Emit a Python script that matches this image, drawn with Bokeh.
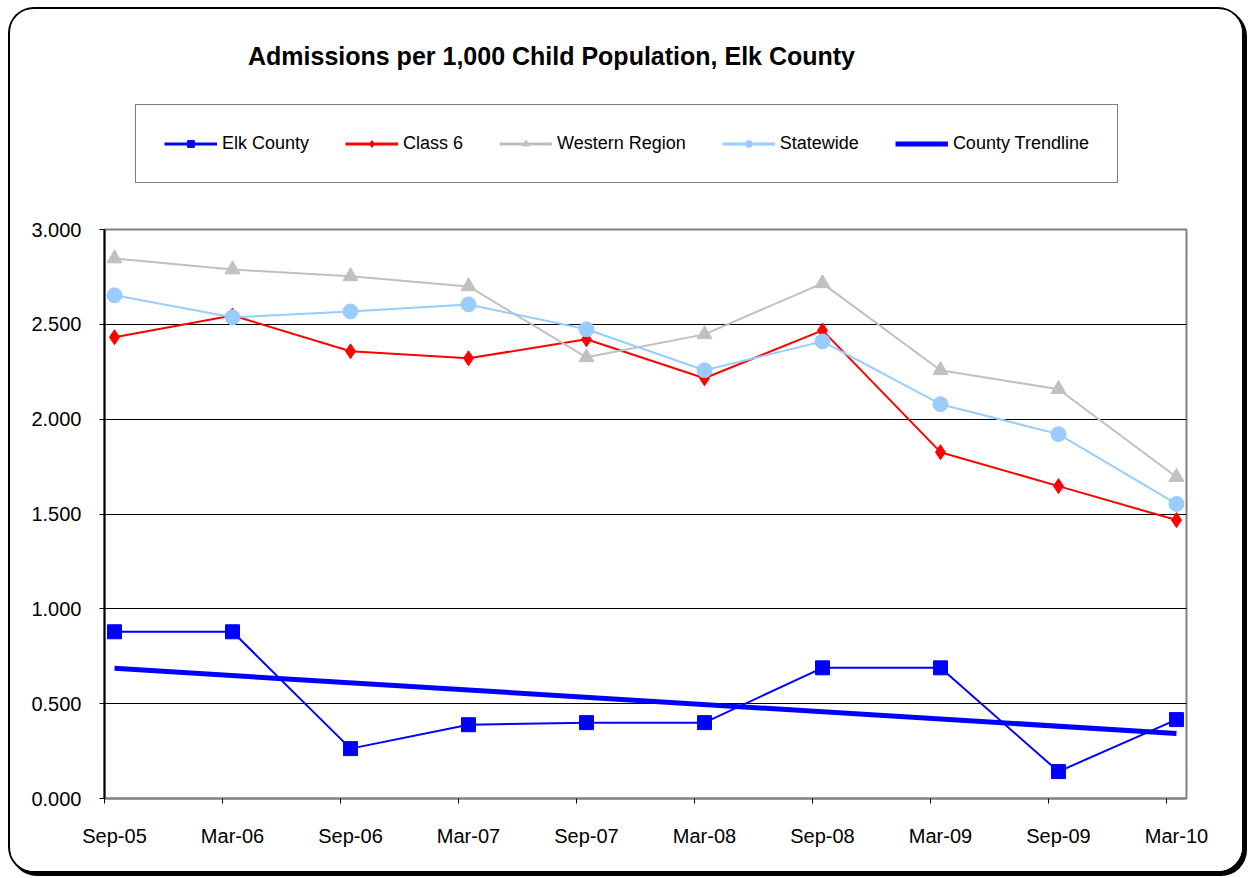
import numpy as np
from bokeh.plotting import figure
from bokeh.layouts import column
from bokeh.models import FixedTicker, Legend, LegendItem, Label, Range1d
from bokeh.embed import file_html
from bokeh.resources import INLINE

# Reporting periods (category axis)
periods = ["Sep-05", "Mar-06", "Sep-06", "Mar-07", "Sep-07",
           "Mar-08", "Sep-08", "Mar-09", "Sep-09", "Mar-10"]

# Admissions per 1,000 child population
elk_county = [0.879, 0.879, 0.263, 0.389, 0.400, 0.400, 0.689, 0.689, 0.142, 0.416]
class_6 = [2.432, 2.547, 2.358, 2.321, 2.421, 2.216, 2.468, 1.826, 1.647, 1.468]
western_region = [2.847, 2.789, 2.753, 2.700, 2.326, 2.447, 2.716, 2.258, 2.158, 1.695]
statewide = [2.653, 2.537, 2.568, 2.605, 2.474, 2.258, 2.410, 2.079, 1.921, 1.553]

y_ticks = [0.0, 0.5, 1.0, 1.5, 2.0, 2.5, 3.0]
y_tick_labels = ["0.000", "0.500", "1.000", "1.500", "2.000", "2.500", "3.000"]

title_text = "Admissions per 1,000 Child Population, Elk County"

xs = list(range(len(periods)))

# Linear (least-squares) trendline for the county series
slope, intercept = np.polyfit(xs, elk_county, 1)
trend_x = [xs[0], xs[-1]]
trend_y = [intercept + slope * xs[0], intercept + slope * xs[-1]]

FONT = "Liberation Sans"
PAD = 0.085

# Series styles: (color, marker, marker size)
ELK = ("#0000FF", "square", 14)
C6 = ("#FF0000", "diamond", 15)
WR = ("#C0C0C0", "triangle", 15)
SW = ("#99CCFF", "circle", 15)

# Inner area of the rounded chart box and the plot-frame margins
BOX_W, BOX_H = 1232, 862
HEAD_H = 200
MAIN_H = BOX_H - HEAD_H
M_LEFT, M_RIGHT = 94, 56

# ---- header: title and legend -------------------------------------------
head = figure(width=BOX_W, height=HEAD_H, output_backend="svg", toolbar_location=None,
              x_range=Range1d(M_LEFT, BOX_W - M_RIGHT), y_range=Range1d(HEAD_H, 0),
              x_axis_type=None, y_axis_type=None,
              min_border_left=M_LEFT, min_border_right=M_RIGHT,
              min_border_top=0, min_border_bottom=0,
              background_fill_color="white", border_fill_color="white",
              outline_line_color=None)
head.xgrid.grid_line_color = None
head.ygrid.grid_line_color = None

# Legend keys: same styling as the chart series, no visible points of their own
blank = [float("nan")] * len(xs)


def legend_key(fig, style, line_width=2, with_marker=True):
    color, marker, size = style
    rs = [fig.line(xs, blank, line_color=color, line_width=line_width)]
    if with_marker:
        rs.append(fig.scatter(xs, blank, marker=marker, size=size,
                              fill_color=color, line_color=color))
    return rs


legend = Legend(
    items=[
        LegendItem(label="Elk County", renderers=legend_key(head, ELK, line_width=3)),
        LegendItem(label="Class 6", renderers=legend_key(head, C6, line_width=3)),
        LegendItem(label="Western Region", renderers=legend_key(head, WR, line_width=3)),
        LegendItem(label="Statewide", renderers=legend_key(head, SW, line_width=3)),
        LegendItem(label="County Trendline",
                   renderers=legend_key(head, ELK, line_width=5, with_marker=False)),
    ],
    orientation="horizontal", location=(31, 26),
    padding=28, spacing=36, margin=0,
    glyph_width=53, glyph_height=17, label_height=17, label_standoff=5,
    label_text_font=FONT, label_text_font_size="18px", label_text_color="black",
    border_line_color="black", border_line_width=1,
    background_fill_color="white", background_fill_alpha=1,
)
head.add_layout(legend, "center")

head.add_layout(Label(x=541, y=46, text=title_text, text_align="center",
                      text_baseline="middle", text_font=FONT,
                      text_font_style="bold", text_font_size="25px",
                      text_color="black"))

# ---- main chart ------------------------------------------------------------
p = figure(width=BOX_W, height=MAIN_H, output_backend="svg", toolbar_location=None,
           x_range=Range1d(-PAD, len(periods) - 1 + PAD), y_range=Range1d(0, 3),
           min_border_left=M_LEFT, min_border_right=M_RIGHT,
           min_border_top=20, min_border_bottom=73,
           background_fill_color="white", border_fill_color="white",
           outline_line_color="#808080", outline_line_width=2)

p.xaxis.ticker = FixedTicker(ticks=xs, minor_ticks=[i - PAD for i in xs])
p.xaxis.major_label_overrides = {i: lab for i, lab in zip(xs, periods)}
p.xaxis.major_tick_line_color = None
p.xaxis.minor_tick_line_color = "black"
p.xaxis.minor_tick_in = 0
p.xaxis.minor_tick_out = 5
p.xaxis.axis_line_color = "#808080"
p.xaxis.axis_line_width = 2
p.xaxis.major_label_standoff = 20
p.xaxis.major_label_text_font = FONT
p.xaxis.major_label_text_font_size = "20px"
p.xaxis.major_label_text_color = "black"

p.yaxis.ticker = FixedTicker(ticks=y_ticks)
p.yaxis.major_label_overrides = {t: lab for t, lab in zip(y_ticks, y_tick_labels)}
p.yaxis.major_tick_line_color = "black"
p.yaxis.major_tick_in = 0
p.yaxis.major_tick_out = 5
p.yaxis.minor_tick_line_color = None
p.yaxis.axis_line_color = "black"
p.yaxis.axis_line_width = 2
p.yaxis.major_label_standoff = 18
p.yaxis.major_label_text_font = FONT
p.yaxis.major_label_text_font_size = "20px"
p.yaxis.major_label_text_color = "black"

p.xgrid.grid_line_color = None
p.ygrid.ticker = FixedTicker(ticks=y_ticks)
p.ygrid.grid_line_color = "black"
p.ygrid.grid_line_width = 1


def series(fig, values, style):
    color, marker, size = style
    fig.line(xs, values, line_color=color, line_width=2)
    fig.scatter(xs, values, marker=marker, size=size,
                fill_color=color, line_color=color)


series(p, elk_county, ELK)
series(p, class_6, C6)
series(p, western_region, WR)
series(p, statewide, SW)
p.line(trend_x, trend_y, line_color=ELK[0], line_width=5)

# Rounded box with a drop shadow around the whole chart
layout = column(head, p, styles={
    "margin-left": "10px",
    "margin-top": "9px",
    "border-radius": "24px",
    "overflow": "hidden",
    "background-color": "white",
    "box-shadow": "0 0 0 2px black, 3px 3px 0 2px black",
})

with open("out.html", "w") as f:
    f.write(file_html(layout, INLINE))
